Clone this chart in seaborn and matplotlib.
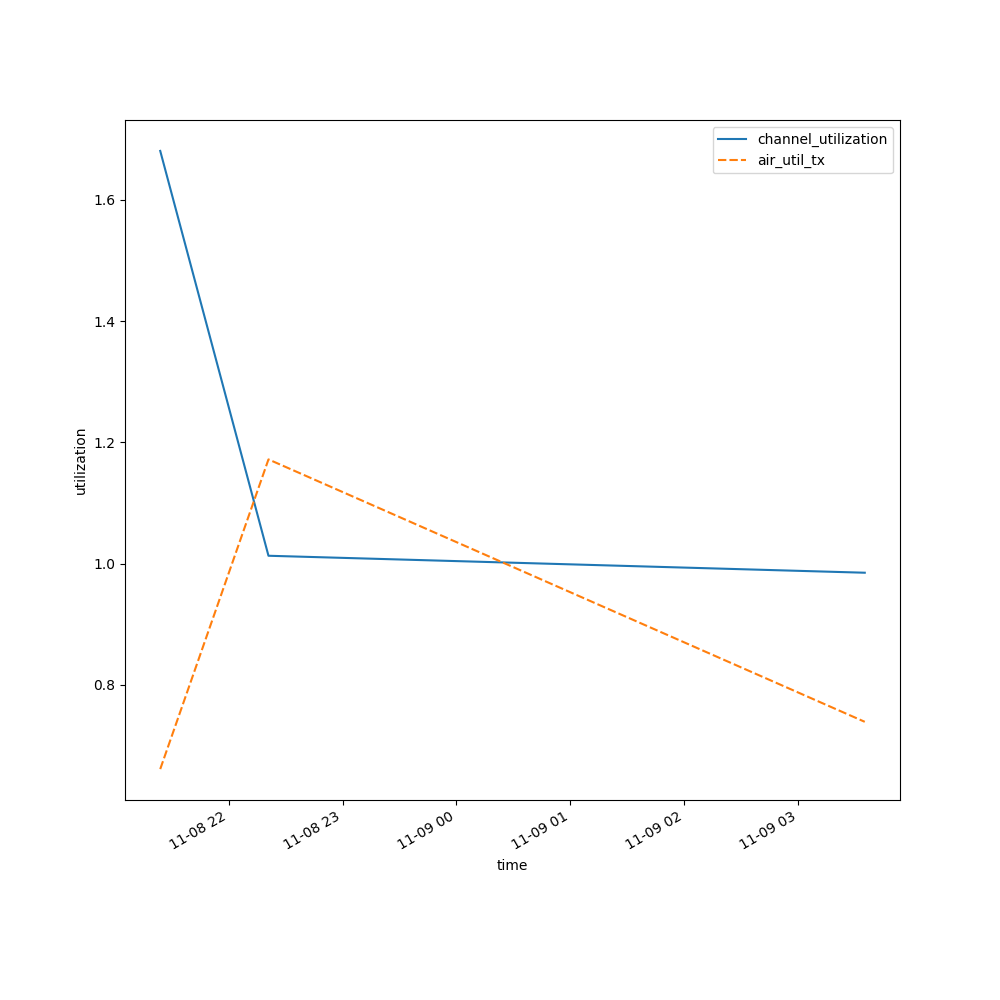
import pandas as pd
import matplotlib
matplotlib.use("Agg")
import matplotlib.pyplot as plt
import seaborn as sns

# values
times = pd.to_datetime([
    "2024-11-08 21:24",
    "2024-11-08 22:21",
    "2024-11-09 03:35",
])
channel_utilization = [1.681, 1.013, 0.985]
air_util_tx = [0.661, 1.172, 0.739]

df = pd.DataFrame(
    {"channel_utilization": channel_utilization, "air_util_tx": air_util_tx},
    index=pd.Index(times, name="time"),
)

fig = plt.figure(figsize=(10, 10))
ax = sns.lineplot(data=df)
ax.set_xlabel("time")
ax.set_ylabel("utilization")
ax.legend(loc="upper right")
fig.autofmt_xdate()
plt.savefig("out.png", dpi=100)
